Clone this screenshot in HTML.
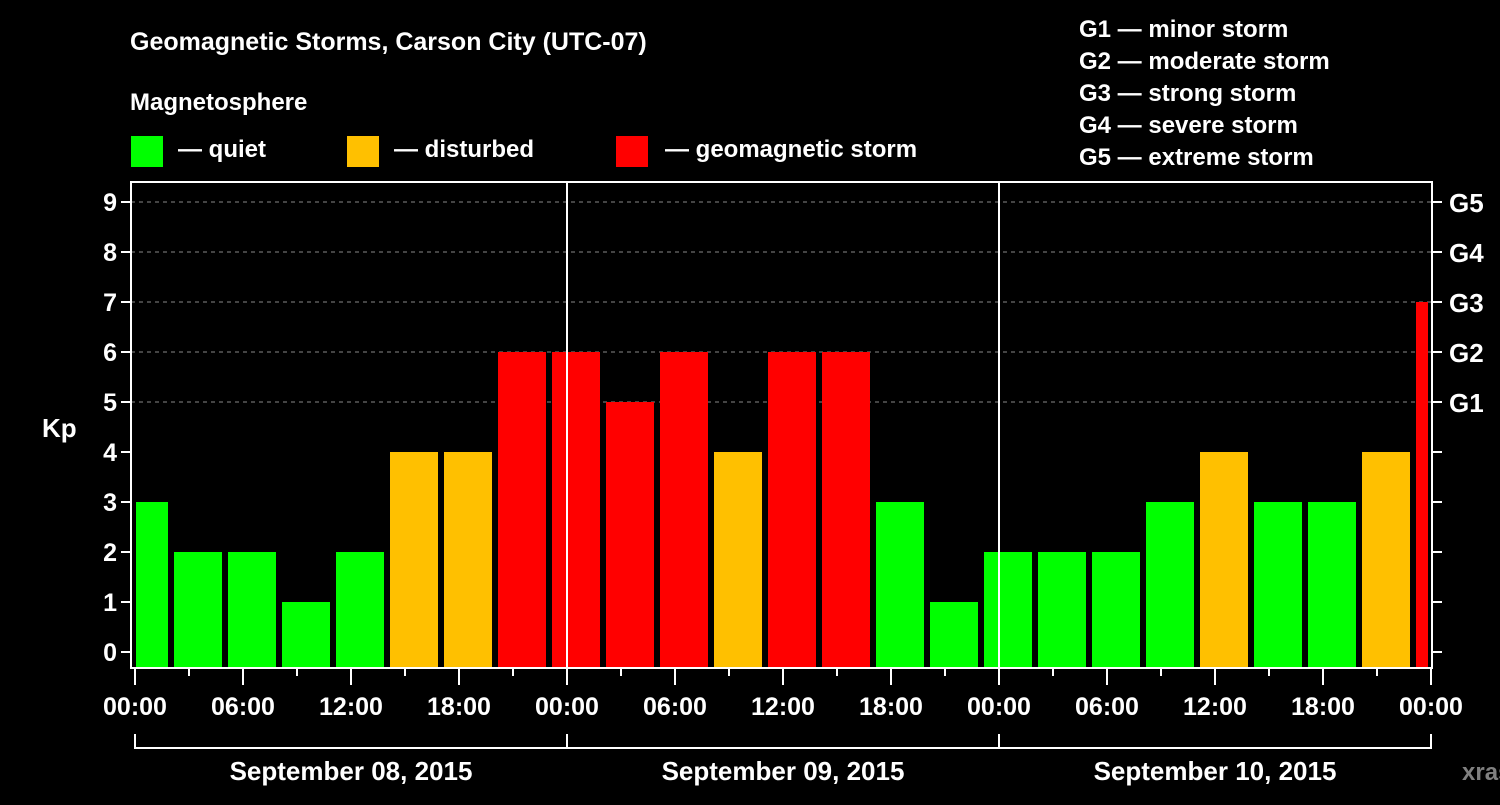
<!DOCTYPE html>
<html><head><meta charset="utf-8"><style>
body{margin:0;background:#000;width:1500px;height:800px;overflow:hidden}
svg text{font-family:"Liberation Sans",sans-serif;font-weight:bold;fill:#fff}
</style></head><body>
<svg id="c" width="1500" height="800">
<text x="130" y="50" font-size="25">Geomagnetic Storms, Carson City (UTC-07)</text>
<text x="130" y="110" font-size="24">Magnetosphere</text>
<g><rect x="131" y="136" width="32" height="31" fill="#00ff00"/><text x="178" y="157" font-size="24">— quiet</text></g>
<g><rect x="347" y="136" width="32" height="31" fill="#ffc000"/><text x="394" y="157" font-size="24">— disturbed</text></g>
<g><rect x="616" y="136" width="32" height="31" fill="#ff0000"/><text x="665" y="157" font-size="24">— geomagnetic storm</text></g>
<g font-size="24">
<text x="1079" y="37">G1 — minor storm</text><text x="1079" y="69">G2 — moderate storm</text><text x="1079" y="101">G3 — strong storm</text><text x="1079" y="133">G4 — severe storm</text><text x="1079" y="165">G5 — extreme storm</text></g>
<text x="42" y="437" font-size="26">Kp</text>
<text x="1462" y="780" font-size="24" fill="#808080" style="fill:#808080">xras.ru</text>
<g id="plot"></g>
</svg>
<script>
const kpValues=[3,2,2,1,2,4,4,6,6,5,6,4,6,6,3,1,2,2,2,3,4,3,3,4,7];
const yTicks=[0,1,2,3,4,5,6,7,8,9];
const gLabels=["G1","G2","G3","G4","G5"];
const xTickLabels=["00:00","06:00","12:00","18:00","00:00","06:00","12:00","18:00","00:00","06:00","12:00","18:00","00:00"];
const dayLabels=["September 08, 2015","September 09, 2015","September 10, 2015"];
const NS="http://www.w3.org/2000/svg";
const g=document.getElementById('plot');
const X0=135,PXH=18,L=131,R=1432,T=182,B=668;
const xs=h=>X0+h*PXH, ys=k=>652-50*k;
function mk(tag,at,par){const e=document.createElementNS(NS,tag);for(const k in at)e.setAttribute(k,at[k]);(par||g).appendChild(e);return e;}
// grid
for(let k=5;k<=9;k++){const l=mk('line',{x1:L,x2:R,y1:ys(k),y2:ys(k),stroke:'#888','stroke-dasharray':'4,4','stroke-width':1});

}
// bars
kpValues.forEach((v,i)=>{let a=xs(-1+3*i)+3,b=xs(2+3*i)-3;a=Math.max(a,L+5);b=Math.min(b,R-4);
const col=v>=5?'#ff0000':v>=4?'#ffc000':'#00ff00';
const r=mk('rect',{x:a,y:ys(v),width:b-a,height:B-1-ys(v),fill:col});

});
// day lines
[1,2].forEach(d=>{const l=mk('line',{x1:xs(24*d),x2:xs(24*d),y1:T,y2:B,stroke:'#fff','stroke-width':2});

});
// frame
const f=mk('rect',{x:L,y:T,width:R-L,height:B-T,fill:'none',stroke:'#fff','stroke-width':2});


// y ticks
yTicks.forEach(k=>{mk('line',{x1:L-10,x2:L,y1:ys(k),y2:ys(k),stroke:'#fff','stroke-width':2});
mk('line',{x1:R,x2:R+10,y1:ys(k),y2:ys(k),stroke:'#fff','stroke-width':2});
const t=mk('text',{x:117,y:ys(k)+9,'font-size':25,'text-anchor':'end'});t.textContent=k;

});
gLabels.forEach((s,i)=>{const t=mk('text',{x:1449,y:ys(5+i)+10,'font-size':26});t.textContent=s;

});
// x ticks
for(let h=0;h<=72;h+=3){const maj=h%6==0;mk('line',{x1:xs(h),x2:xs(h),y1:B,y2:B+(maj?17:8),stroke:'#fff','stroke-width':2});}
xTickLabels.forEach((s,i)=>{const t=mk('text',{x:xs(6*i),y:715,'font-size':25,'text-anchor':'middle'});t.textContent=s;

});
// day brackets
mk('line',{x1:xs(0),x2:xs(72),y1:748,y2:748,stroke:'#fff','stroke-width':2});
for(let d=0;d<=3;d++)mk('line',{x1:xs(24*d),x2:xs(24*d),y1:734,y2:749,stroke:'#fff','stroke-width':2});
dayLabels.forEach((s,i)=>{const t=mk('text',{x:xs(24*i+12),y:780,'font-size':26,'text-anchor':'middle'});t.textContent=s;

});
</script>
</body></html>
